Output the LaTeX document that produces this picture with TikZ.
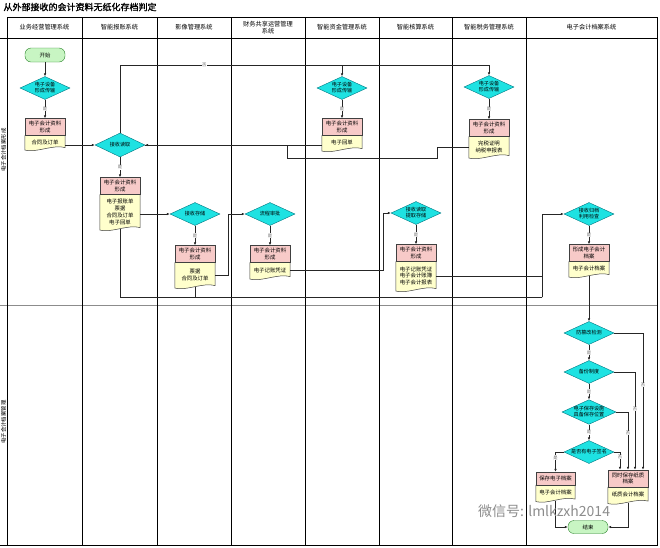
\documentclass[tikz,border=0pt]{standalone}
\usepackage{fontspec}
\setmainfont{Noto Sans CJK SC}[AutoFakeBold=1.5]
\usetikzlibrary{shapes.geometric,arrows.meta,backgrounds,positioning}

\definecolor{boxpink}{RGB}{247,202,200}
\definecolor{docyellow}{RGB}{255,255,204}
\definecolor{deccyan}{RGB}{30,226,226}
\definecolor{decline}{RGB}{0,118,128}
\definecolor{termgreen}{RGB}{200,245,195}
\definecolor{termline}{RGB}{40,130,40}

\tikzset{
  lane/.style={line width=0.8pt},
  head/.style={align=center, font=\fontsize{6.2}{7}\selectfont},
  dec/.style={diamond, draw=decline, fill=deccyan, aspect=2.2, minimum width=50pt,
    minimum height=23pt, inner sep=0pt, align=center, font=\fontsize{5.1}{6}\selectfont},
  term/.style={rounded corners=6pt, draw=termline, fill=termgreen, minimum width=40pt,
    minimum height=14pt, font=\fontsize{5.4}{6}\selectfont},
  pinkbox/.style={draw=black!75, fill=boxpink, minimum width=40pt, minimum height=17pt,
    inner sep=0pt, align=center, font=\fontsize{5.4}{6.6}\selectfont},
  docbox/.style={minimum width=40pt, inner sep=0pt, align=center,
    font=\fontsize{5.4}{6.9}\selectfont},
  conn/.style={draw=black!85, line width=0.6pt},
  flow/.style={conn, -{Latex[length=3pt,width=2.6pt]}},
  tag/.style={fill=white, inner sep=0.4pt, text=black!60, font=\fontsize{4.3}{4.3}\selectfont},
}

% wavy document outline behind a yellow node
\newcommand{\docshape}[1]{%
  \filldraw[draw=black!75, fill=docyellow, line width=0.5pt]
    (#1.north west) -- (#1.north east) -- ([yshift=1.5pt]#1.south east)
    .. controls ([xshift=-12pt,yshift=5pt]#1.south east) and ([xshift=12pt,yshift=-4pt]#1.south west)
    .. ([yshift=-1pt]#1.south west) -- cycle;}

\begin{document}
\begin{tikzpicture}[x=1pt,y=-1pt]
  \useasboundingbox (0,0) rectangle (660,547);

  % title and swimlanes
  \node[anchor=west, font=\fontsize{9}{10}\selectfont\bfseries] (title) at (0,7)
    {从外部接收的会计资料无纸化存档判定};
  \draw[lane] (7,17) -- (657,17) -- (657,545) -- (0,545);
  \draw[lane] (0,38) -- (657,38);
  \draw[lane, black!45] (0,305) -- (657,305);
  \foreach \x in {7,82,157,231,305,379,452,526}
    \draw[lane] (\x,17) -- (\x,545);
  \foreach \x/\txt in {44.5/业务经营管理系统, 119.5/智能报账系统, 194/影像管理系统,
      268/{财务共享运营管理\\系统}, 342/智能资金管理系统, 415.5/智能核算系统,
      489/智能税务管理系统, 591.5/电子会计档案系统}
    \node[head] at (\x,27.5) {\txt};
  \node[rotate=90, font=\fontsize{5.4}{6}\selectfont] (rowA) at (3.5,150) {电子会计档案形成};
  \node[rotate=90, font=\fontsize{5.4}{6}\selectfont] (rowB) at (3.5,422) {电子会计档案管理};

  % formation row
  \node[term] (start) at (45,55) {开始};
  \node[dec] (d1) at (45,88) {电子设备\\形成传输};
  \node[pinkbox] (b1t) at (45,127) {电子会计资料\\形成};
  \node[docbox, minimum height=13pt, below=0pt of b1t] (b1) {合同及订单};

  \node[dec, minimum height=24pt] (d2) at (120,145) {接收读取};
  \node[pinkbox] (b2t) at (120,186) {电子会计资料\\形成};
  \node[docbox, minimum height=34pt, below=0pt of b2t] (b2) {电子报账单\\票据\\合同及订单\\电子回单};

  \node[dec] (d3) at (195,214) {接收存储};
  \node[pinkbox] (b3t) at (195,254) {电子会计资料\\形成};
  \node[docbox, minimum height=24pt, below=0pt of b3t] (b3) {票据\\合同及订单};

  \node[dec] (d4) at (270,214) {流程审批};
  \node[pinkbox] (b4t) at (270,254) {电子会计资料\\形成};
  \node[docbox, minimum height=15pt, below=0pt of b4t] (b4) {电子记账凭证};

  \node[dec] (d5) at (342,88) {电子设备\\形成传输};
  \node[pinkbox] (b5t) at (342,127) {电子会计资料\\形成};
  \node[docbox, minimum height=14pt, below=0pt of b5t] (b5) {电子回单};

  \node[dec] (d6) at (416,213) {接收读取\\提取存储};
  \node[pinkbox] (b6t) at (416,253) {电子会计资料\\形成};
  \node[docbox, minimum height=28pt, below=0pt of b6t] (b6) {电子记账凭证\\电子会计账簿\\电子会计报表};

  \node[dec] (d7) at (489,87) {电子设备\\形成传输};
  \node[pinkbox] (b7t) at (489,128) {电子会计资料\\形成};
  \node[docbox, minimum height=20pt, below=0pt of b7t] (b7) {完税证明\\纳税申报表};

  \node[dec] (d8) at (589,214) {接收归档\\利用检查};
  \node[pinkbox] (b8t) at (589,253) {形成电子会计\\档案};
  \node[docbox, minimum height=14pt, below=0pt of b8t] (b8) {电子会计档案};

  % management row
  \node[dec] (d9) at (589,333) {防篡改检测};
  \node[dec] (d10) at (589,372) {备份制度};
  \node[dec] (d11) at (589,412) {电子保存设施\\具备保存位置};
  \node[dec] (d12) at (589,452) {是否有电子签名};
  \node[pinkbox, minimum height=13pt, minimum width=39pt] (b9t) at (555.5,478.5) {保存电子档案};
  \node[docbox, minimum height=15pt, minimum width=39pt, below=0pt of b9t] (b9) {电子会计档案};
  \node[pinkbox] (b10t) at (628,478.5) {同时保存纸质\\档案};
  \node[docbox, minimum height=15pt, below=0pt of b10t] (b10) {纸质会计档案};
  \node[term, minimum height=13pt] (end) at (588,527) {结束};

  \begin{scope}[on background layer]
    \foreach \n in {b1,b2,b3,b4,b5,b6,b7,b8,b9,b10}
      \docshape{\n};
  \end{scope}

  % connectors
  \coordinate (back) at (120,65);
  \coordinate (join) at (287,158);
  \coordinate (bus) at (542,297);

  \draw[flow] (start) -- (d1);
  \draw[flow] (d1) -- node[tag]{是} (b1t);
  \draw[flow] (b1.east |- d2) -- (d2.west);
  \draw[flow] (d2) -- node[tag]{是} (b2t);
  \draw[conn] (d2.north) -- (back);
  \draw[flow] (back) -| node[tag, pos=0.19]{否} (d5.north);
  \draw[flow] (d5.north |- back) -| (d7.north);
  \draw[flow] (b5.west |- d2) -- (d2.east);
  \draw[conn] (b7.west) -| (437,158) -- (join) |- (d2.east);

  \draw[flow] (b2.east |- d3) -- (d3.west);
  \draw[flow] (d3) -- node[tag]{是} (b3t);
  \draw[flow] (b3.east) -- (228,0 |- b3.east) |- (d4.west);
  \draw[flow] (d4) -- node[tag]{是} (b4t);
  \draw[flow] (b4.east) -- (383,0 |- b4.east) |- (d6.west);
  \draw[flow] (d6) -- node[tag]{是} (b6t);
  \draw[flow] (b6.east) -| (bus) |- (d8.west);
  \draw[conn] (b2.south) |- (bus);
  \draw[conn] (b3.south) -- (b3.south |- bus);
  \draw[flow] (d5) -- node[tag]{是} (b5t);
  \draw[flow] (d7) -- node[tag]{是} (b7t);
  \draw[flow] (d8) -- node[tag]{是} (b8t);

  \draw[flow] (b8.south) -- (d9.north);
  \draw[flow] (d9) -- node[tag]{是} (d10);
  \draw[flow] (d10) -- node[tag]{是} (d11);
  \draw[flow] (d11) -- node[tag]{是} (d12);
  \draw[flow] (d9.east) -| node[tag, pos=0.69]{否} ([xshift=15pt]b10t.north);
  \draw[flow] (d10.east) -| node[tag, pos=0.69]{否} ([xshift=7pt]b10t.north);
  \draw[flow] (d11.east) -| node[tag, pos=0.68]{否} (b10t.north);
  \draw[flow] (d12.east) -| node[tag, pos=0.64]{否} ([xshift=-8pt]b10t.north);
  \draw[flow] (d12.west) -| node[tag, pos=0.64]{是} (b9t.north);
  \draw[flow] (b9.south) |- (end.west);
  \draw[flow] (b10.south) |- (end.east);

  % watermark
  \node[anchor=west, text=black!45, inner sep=0pt, font=\fontsize{14}{14}\selectfont] (mark) at (478,511)
    {微信号: lmlkzxh2014};
\end{tikzpicture}
\end{document}
